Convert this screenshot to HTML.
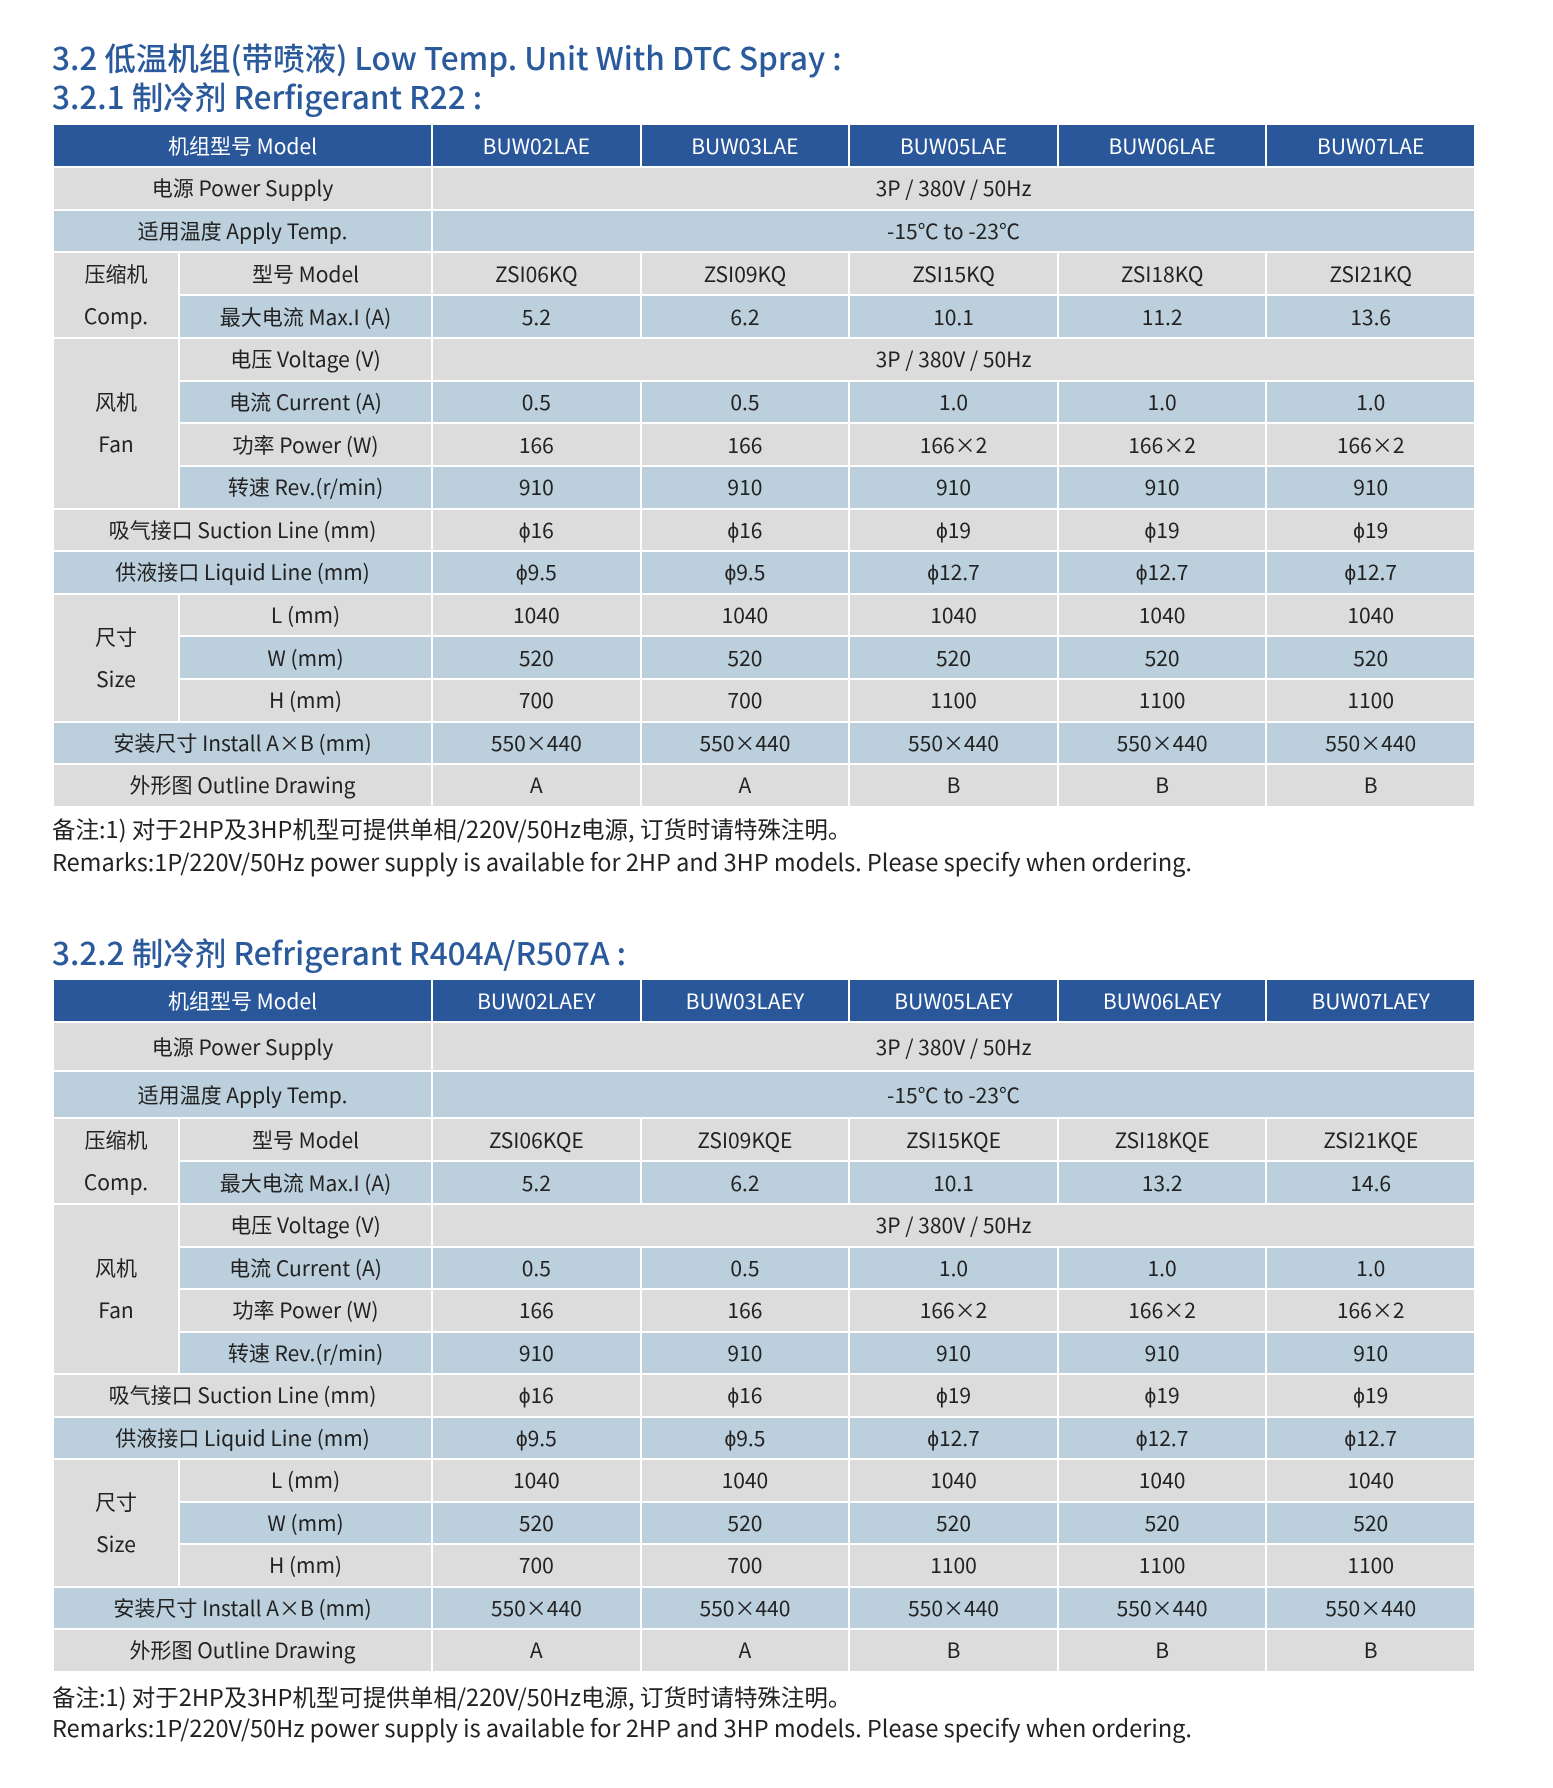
<!DOCTYPE html>
<html><head><meta charset="utf-8">
<style>
body{margin:0;width:1553px;height:1788px;background:#fff;position:relative;overflow:hidden;font-family:"Liberation Sans","Noto Sans CJK SC",sans-serif;}
.t{position:absolute;left:52px;font-family:"Noto Sans CJK SC","Liberation Sans",sans-serif;font-size:31.5px;font-weight:500;color:#2a5a9c;line-height:40px;white-space:nowrap;}
.r{position:absolute;left:52px;font-family:"Noto Sans CJK SC","Liberation Sans",sans-serif;font-size:23.5px;color:#222;line-height:30px;white-space:nowrap;}
table{position:absolute;left:52px;width:1424px;border-collapse:collapse;table-layout:fixed;font-family:"Noto Sans CJK SC","Liberation Sans",sans-serif;font-size:21px;color:#222;}
td{border:2px solid #fff;text-align:center;padding:0;white-space:nowrap;overflow:hidden;}
tr.h td{background:#2a579a;color:#fff;}
tr.g td{background:#dcdcdc;}
tr.b td{background:#bccfdc;}
td.m{background:#dcdcdc !important;line-height:42px;}
</style></head><body>
<div class="t" style="top:37px">3.2 低温机组(带喷液) Low Temp. Unit With DTC Spray :</div>
<div class="t" style="top:76px">3.2.1 制冷剂 Rerfigerant R22 :</div>

<table style="top:123px">
<colgroup><col style="width:126px"><col style="width:253px"><col><col><col><col><col></colgroup>
<tr class="h" style="height:43px"><td colspan="2">机组型号 Model</td><td>BUW02LAE</td><td>BUW03LAE</td><td>BUW05LAE</td><td>BUW06LAE</td><td>BUW07LAE</td></tr>
<tr class="g" style="height:42.6px"><td colspan="2">电源 Power Supply</td><td colspan="5">3P / 380V / 50Hz</td></tr>
<tr class="b" style="height:42.6px"><td colspan="2">适用温度 Apply Temp.</td><td colspan="5">-15℃ to -23℃</td></tr>
<tr class="g" style="height:42.6px"><td class="m" rowspan="2">压缩机<br>Comp.</td><td>型号 Model</td><td>ZSI06KQ</td><td>ZSI09KQ</td><td>ZSI15KQ</td><td>ZSI18KQ</td><td>ZSI21KQ</td></tr>
<tr class="b" style="height:42.6px"><td>最大电流 Max.I (A)</td><td>5.2</td><td>6.2</td><td>10.1</td><td>11.2</td><td>13.6</td></tr>
<tr class="g" style="height:42.6px"><td class="m" rowspan="4">风机<br>Fan</td><td>电压 Voltage (V)</td><td colspan="5">3P / 380V / 50Hz</td></tr>
<tr class="b" style="height:42.6px"><td>电流 Current (A)</td><td>0.5</td><td>0.5</td><td>1.0</td><td>1.0</td><td>1.0</td></tr>
<tr class="g" style="height:42.6px"><td>功率 Power (W)</td><td>166</td><td>166</td><td>166×2</td><td>166×2</td><td>166×2</td></tr>
<tr class="b" style="height:42.6px"><td>转速 Rev.(r/min)</td><td>910</td><td>910</td><td>910</td><td>910</td><td>910</td></tr>
<tr class="g" style="height:42.6px"><td colspan="2">吸气接口 Suction Line (mm)</td><td>ϕ16</td><td>ϕ16</td><td>ϕ19</td><td>ϕ19</td><td>ϕ19</td></tr>
<tr class="b" style="height:42.6px"><td colspan="2">供液接口 Liquid Line (mm)</td><td>ϕ9.5</td><td>ϕ9.5</td><td>ϕ12.7</td><td>ϕ12.7</td><td>ϕ12.7</td></tr>
<tr class="g" style="height:42.6px"><td class="m" rowspan="3">尺寸<br>Size</td><td>L (mm)</td><td>1040</td><td>1040</td><td>1040</td><td>1040</td><td>1040</td></tr>
<tr class="b" style="height:42.6px"><td>W (mm)</td><td>520</td><td>520</td><td>520</td><td>520</td><td>520</td></tr>
<tr class="g" style="height:42.6px"><td>H (mm)</td><td>700</td><td>700</td><td>1100</td><td>1100</td><td>1100</td></tr>
<tr class="b" style="height:42.6px"><td colspan="2">安装尺寸 Install A×B (mm)</td><td>550×440</td><td>550×440</td><td>550×440</td><td>550×440</td><td>550×440</td></tr>
<tr class="g" style="height:42.6px"><td colspan="2">外形图 Outline Drawing</td><td>A</td><td>A</td><td>B</td><td>B</td><td>B</td></tr>
</table>
<div class="r" style="top:813px">备注:1) 对于2HP及3HP机型可提供单相/220V/50Hz电源, 订货时请特殊注明。</div>
<div class="r" style="top:846px">Remarks:1P/220V/50Hz power supply is available for 2HP and 3HP models. Please specify when ordering.</div>

<div class="t" style="top:932px">3.2.2 制冷剂 Refrigerant R404A/R507A :</div>
<table style="top:978px">
<colgroup><col style="width:126px"><col style="width:253px"><col><col><col><col><col></colgroup>
<tr class="h" style="height:43px"><td colspan="2">机组型号 Model</td><td>BUW02LAEY</td><td>BUW03LAEY</td><td>BUW05LAEY</td><td>BUW06LAEY</td><td>BUW07LAEY</td></tr>
<tr class="g" style="height:49px"><td colspan="2">电源 Power Supply</td><td colspan="5">3P / 380V / 50Hz</td></tr>
<tr class="b" style="height:47px"><td colspan="2">适用温度 Apply Temp.</td><td colspan="5">-15℃ to -23℃</td></tr>
<tr class="g" style="height:42.5px"><td class="m" rowspan="2">压缩机<br>Comp.</td><td>型号 Model</td><td>ZSI06KQE</td><td>ZSI09KQE</td><td>ZSI15KQE</td><td>ZSI18KQE</td><td>ZSI21KQE</td></tr>
<tr class="b" style="height:42.5px"><td>最大电流 Max.I (A)</td><td>5.2</td><td>6.2</td><td>10.1</td><td>13.2</td><td>14.6</td></tr>
<tr class="g" style="height:42.5px"><td class="m" rowspan="4">风机<br>Fan</td><td>电压 Voltage (V)</td><td colspan="5">3P / 380V / 50Hz</td></tr>
<tr class="b" style="height:42.5px"><td>电流 Current (A)</td><td>0.5</td><td>0.5</td><td>1.0</td><td>1.0</td><td>1.0</td></tr>
<tr class="g" style="height:42.5px"><td>功率 Power (W)</td><td>166</td><td>166</td><td>166×2</td><td>166×2</td><td>166×2</td></tr>
<tr class="b" style="height:42.5px"><td>转速 Rev.(r/min)</td><td>910</td><td>910</td><td>910</td><td>910</td><td>910</td></tr>
<tr class="g" style="height:42.5px"><td colspan="2">吸气接口 Suction Line (mm)</td><td>ϕ16</td><td>ϕ16</td><td>ϕ19</td><td>ϕ19</td><td>ϕ19</td></tr>
<tr class="b" style="height:42.5px"><td colspan="2">供液接口 Liquid Line (mm)</td><td>ϕ9.5</td><td>ϕ9.5</td><td>ϕ12.7</td><td>ϕ12.7</td><td>ϕ12.7</td></tr>
<tr class="g" style="height:42.5px"><td class="m" rowspan="3">尺寸<br>Size</td><td>L (mm)</td><td>1040</td><td>1040</td><td>1040</td><td>1040</td><td>1040</td></tr>
<tr class="b" style="height:42.5px"><td>W (mm)</td><td>520</td><td>520</td><td>520</td><td>520</td><td>520</td></tr>
<tr class="g" style="height:42.5px"><td>H (mm)</td><td>700</td><td>700</td><td>1100</td><td>1100</td><td>1100</td></tr>
<tr class="b" style="height:42.5px"><td colspan="2">安装尺寸 Install A×B (mm)</td><td>550×440</td><td>550×440</td><td>550×440</td><td>550×440</td><td>550×440</td></tr>
<tr class="g" style="height:42.5px"><td colspan="2">外形图 Outline Drawing</td><td>A</td><td>A</td><td>B</td><td>B</td><td>B</td></tr>
</table>
<div class="r" style="top:1681px">备注:1) 对于2HP及3HP机型可提供单相/220V/50Hz电源, 订货时请特殊注明。</div>
<div class="r" style="top:1712px">Remarks:1P/220V/50Hz power supply is available for 2HP and 3HP models. Please specify when ordering.</div>
</body></html>
